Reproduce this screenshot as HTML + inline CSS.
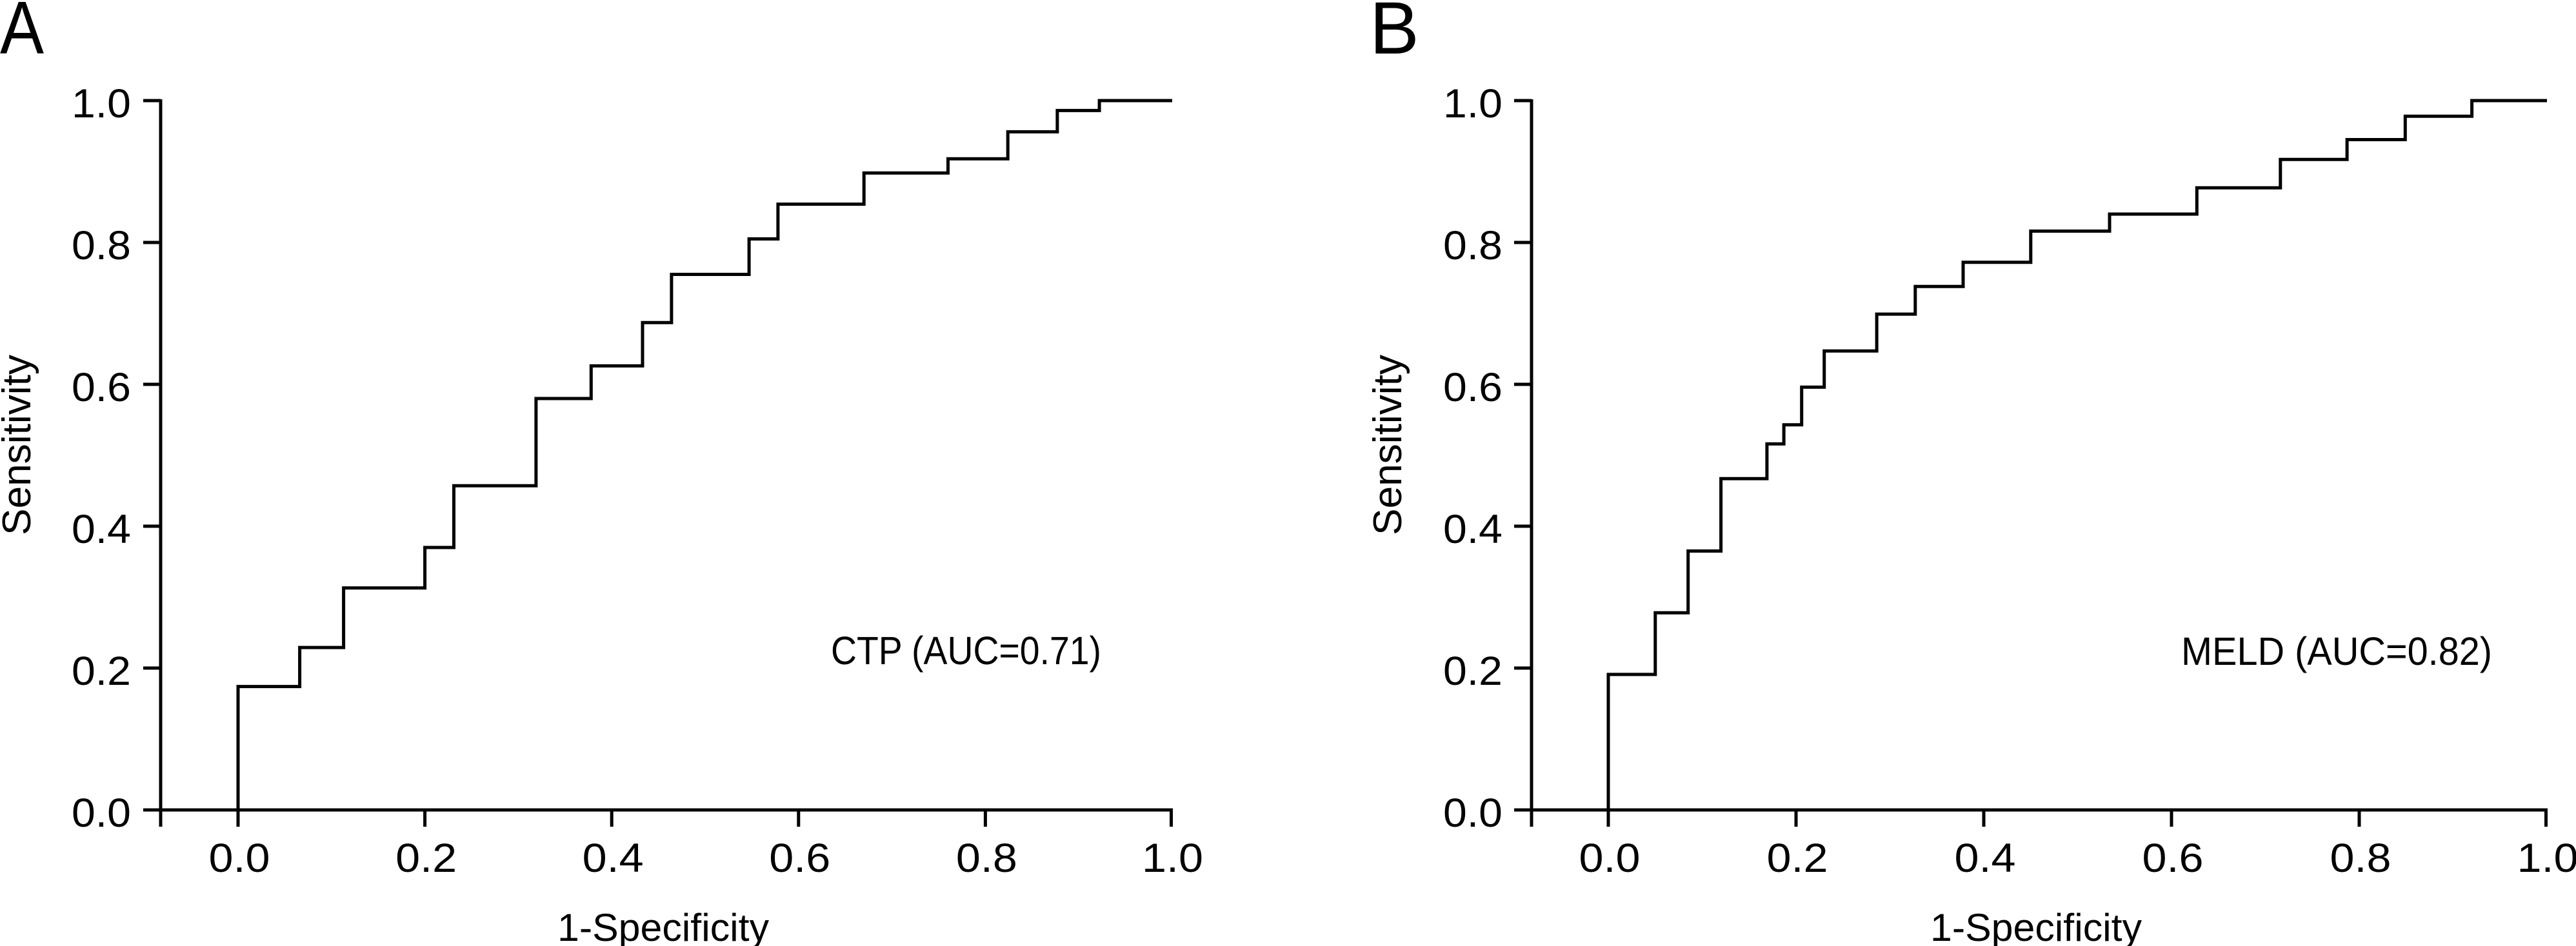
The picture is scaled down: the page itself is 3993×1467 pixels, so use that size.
<!DOCTYPE html>
<html>
<head>
<meta charset="utf-8">
<style>
  html, body { margin: 0; padding: 0; background: #fff; }
  svg { display: block; }
  text { font-family: "Liberation Sans", Arial, sans-serif; fill: #000; }
</style>
</head>
<body>
<svg width="3993" height="1467" viewBox="0 0 3993 1467" xmlns="http://www.w3.org/2000/svg">
  <rect x="0" y="0" width="3993" height="1467" fill="#fff"/>

  <!-- ================= Panel A ================= -->
  <text x="0" y="83" font-size="116" textLength="68" lengthAdjust="spacingAndGlyphs">A</text>

  <g stroke="#000" stroke-width="5" fill="none" stroke-linecap="butt">
    <!-- y axis -->
    <line x1="249" y1="154" x2="249" y2="1282"/>
    <!-- x axis -->
    <line x1="222" y1="1256" x2="1818" y2="1256"/>
    <!-- y ticks -->
    <line x1="222" y1="156" x2="249" y2="156"/>
    <line x1="222" y1="376" x2="249" y2="376"/>
    <line x1="222" y1="596" x2="249" y2="596"/>
    <line x1="222" y1="816" x2="249" y2="816"/>
    <line x1="222" y1="1036" x2="249" y2="1036"/>
    <!-- x ticks -->
    <line x1="369" y1="1256" x2="369" y2="1282"/>
    <line x1="658.6" y1="1256" x2="658.6" y2="1282"/>
    <line x1="948.2" y1="1256" x2="948.2" y2="1282"/>
    <line x1="1237.8" y1="1256" x2="1237.8" y2="1282"/>
    <line x1="1527.4" y1="1256" x2="1527.4" y2="1282"/>
    <line x1="1815.5" y1="1256" x2="1815.5" y2="1282"/>
  </g>

  <!-- ROC curve A -->
  <path fill="none" stroke="#000" stroke-width="5" stroke-linejoin="miter" stroke-linecap="butt"
    d="M369,1256 V1064.6 H464.6 V1004.1 H532.6 V911.7 H658.6 V849 H703.5 V753.3 H830.9 V618 H916.3 V567.4 H996 V500.3 H1040.9 V425.5 H1161.1 V370.5 H1205.9 V316.6 H1339.2 V268.2 H1469.5 V246.2 H1562.2 V204.4 H1638.9 V171.4 H1704.1 V156 H1817"/>

  <!-- y tick labels A -->
  <g font-size="63" text-anchor="end">
    <text x="203" y="182" textLength="92" lengthAdjust="spacingAndGlyphs">1.0</text>
    <text x="203" y="402" textLength="92" lengthAdjust="spacingAndGlyphs">0.8</text>
    <text x="203" y="622" textLength="92" lengthAdjust="spacingAndGlyphs">0.6</text>
    <text x="203" y="842" textLength="92" lengthAdjust="spacingAndGlyphs">0.4</text>
    <text x="203" y="1062" textLength="92" lengthAdjust="spacingAndGlyphs">0.2</text>
    <text x="203" y="1282" textLength="92" lengthAdjust="spacingAndGlyphs">0.0</text>
  </g>
  <!-- x tick labels A -->
  <g font-size="63" text-anchor="middle">
    <text x="371" y="1352" textLength="95" lengthAdjust="spacingAndGlyphs">0.0</text>
    <text x="660.6" y="1352" textLength="95" lengthAdjust="spacingAndGlyphs">0.2</text>
    <text x="950.2" y="1352" textLength="95" lengthAdjust="spacingAndGlyphs">0.4</text>
    <text x="1239.8" y="1352" textLength="95" lengthAdjust="spacingAndGlyphs">0.6</text>
    <text x="1529.4" y="1352" textLength="95" lengthAdjust="spacingAndGlyphs">0.8</text>
    <text x="1817.5" y="1352" textLength="95" lengthAdjust="spacingAndGlyphs">1.0</text>
  </g>

  <text x="864" y="1459" font-size="60" textLength="328" lengthAdjust="spacingAndGlyphs">1-Specificity</text>
  <text transform="translate(47,690) rotate(-90)" font-size="62" text-anchor="middle" textLength="280" lengthAdjust="spacingAndGlyphs">Sensitivity</text>

  <text x="1288" y="1030" font-size="61" textLength="419" lengthAdjust="spacingAndGlyphs">CTP (AUC=0.71)</text>

  <!-- ================= Panel B ================= -->
  <text x="2123" y="83" font-size="115">B</text>

  <g stroke="#000" stroke-width="5" fill="none" stroke-linecap="butt">
    <!-- y axis -->
    <line x1="2374" y1="154" x2="2374" y2="1282"/>
    <!-- x axis -->
    <line x1="2347" y1="1256" x2="3949" y2="1256"/>
    <!-- y ticks -->
    <line x1="2347" y1="156" x2="2374" y2="156"/>
    <line x1="2347" y1="376" x2="2374" y2="376"/>
    <line x1="2347" y1="596" x2="2374" y2="596"/>
    <line x1="2347" y1="816" x2="2374" y2="816"/>
    <line x1="2347" y1="1036" x2="2374" y2="1036"/>
    <!-- x ticks -->
    <line x1="2493" y1="1256" x2="2493" y2="1282"/>
    <line x1="2784" y1="1256" x2="2784" y2="1282"/>
    <line x1="3075" y1="1256" x2="3075" y2="1282"/>
    <line x1="3366" y1="1256" x2="3366" y2="1282"/>
    <line x1="3657" y1="1256" x2="3657" y2="1282"/>
    <line x1="3946.5" y1="1256" x2="3946.5" y2="1282"/>
  </g>

  <!-- ROC curve B -->
  <path fill="none" stroke="#000" stroke-width="5" stroke-linejoin="miter" stroke-linecap="butt"
    d="M2493,1256 V1045.9 H2565.8 V950.2 H2616.7 V854.5 H2667.6 V742.3 H2738.9 V688.4 H2765.1 V658.7 H2792.7 V600.4 H2827.7 V544.3 H2909.1 V487.1 H2968.8 V444.2 H3043 V406.8 H3147.8 V358.4 H3270 V332 H3405.3 V291.3 H3534.8 V247.3 H3638.1 V216.5 H3728.3 V180.2 H3831.6 V156 H3948"/>

  <!-- y tick labels B -->
  <g font-size="63" text-anchor="end">
    <text x="2329" y="182" textLength="92" lengthAdjust="spacingAndGlyphs">1.0</text>
    <text x="2329" y="402" textLength="92" lengthAdjust="spacingAndGlyphs">0.8</text>
    <text x="2329" y="622" textLength="92" lengthAdjust="spacingAndGlyphs">0.6</text>
    <text x="2329" y="842" textLength="92" lengthAdjust="spacingAndGlyphs">0.4</text>
    <text x="2329" y="1062" textLength="92" lengthAdjust="spacingAndGlyphs">0.2</text>
    <text x="2329" y="1282" textLength="92" lengthAdjust="spacingAndGlyphs">0.0</text>
  </g>
  <!-- x tick labels B -->
  <g font-size="63" text-anchor="middle">
    <text x="2495" y="1352" textLength="95" lengthAdjust="spacingAndGlyphs">0.0</text>
    <text x="2786" y="1352" textLength="95" lengthAdjust="spacingAndGlyphs">0.2</text>
    <text x="3077" y="1352" textLength="95" lengthAdjust="spacingAndGlyphs">0.4</text>
    <text x="3368" y="1352" textLength="95" lengthAdjust="spacingAndGlyphs">0.6</text>
    <text x="3659" y="1352" textLength="95" lengthAdjust="spacingAndGlyphs">0.8</text>
    <text x="3949" y="1352" textLength="95" lengthAdjust="spacingAndGlyphs">1.0</text>
  </g>

  <text x="2992" y="1459" font-size="60" textLength="328" lengthAdjust="spacingAndGlyphs">1-Specificity</text>
  <text transform="translate(2172,690) rotate(-90)" font-size="62" text-anchor="middle" textLength="280" lengthAdjust="spacingAndGlyphs">Sensitivity</text>

  <text x="3381" y="1031" font-size="61" textLength="482" lengthAdjust="spacingAndGlyphs">MELD (AUC=0.82)</text>
</svg>
</body>
</html>
